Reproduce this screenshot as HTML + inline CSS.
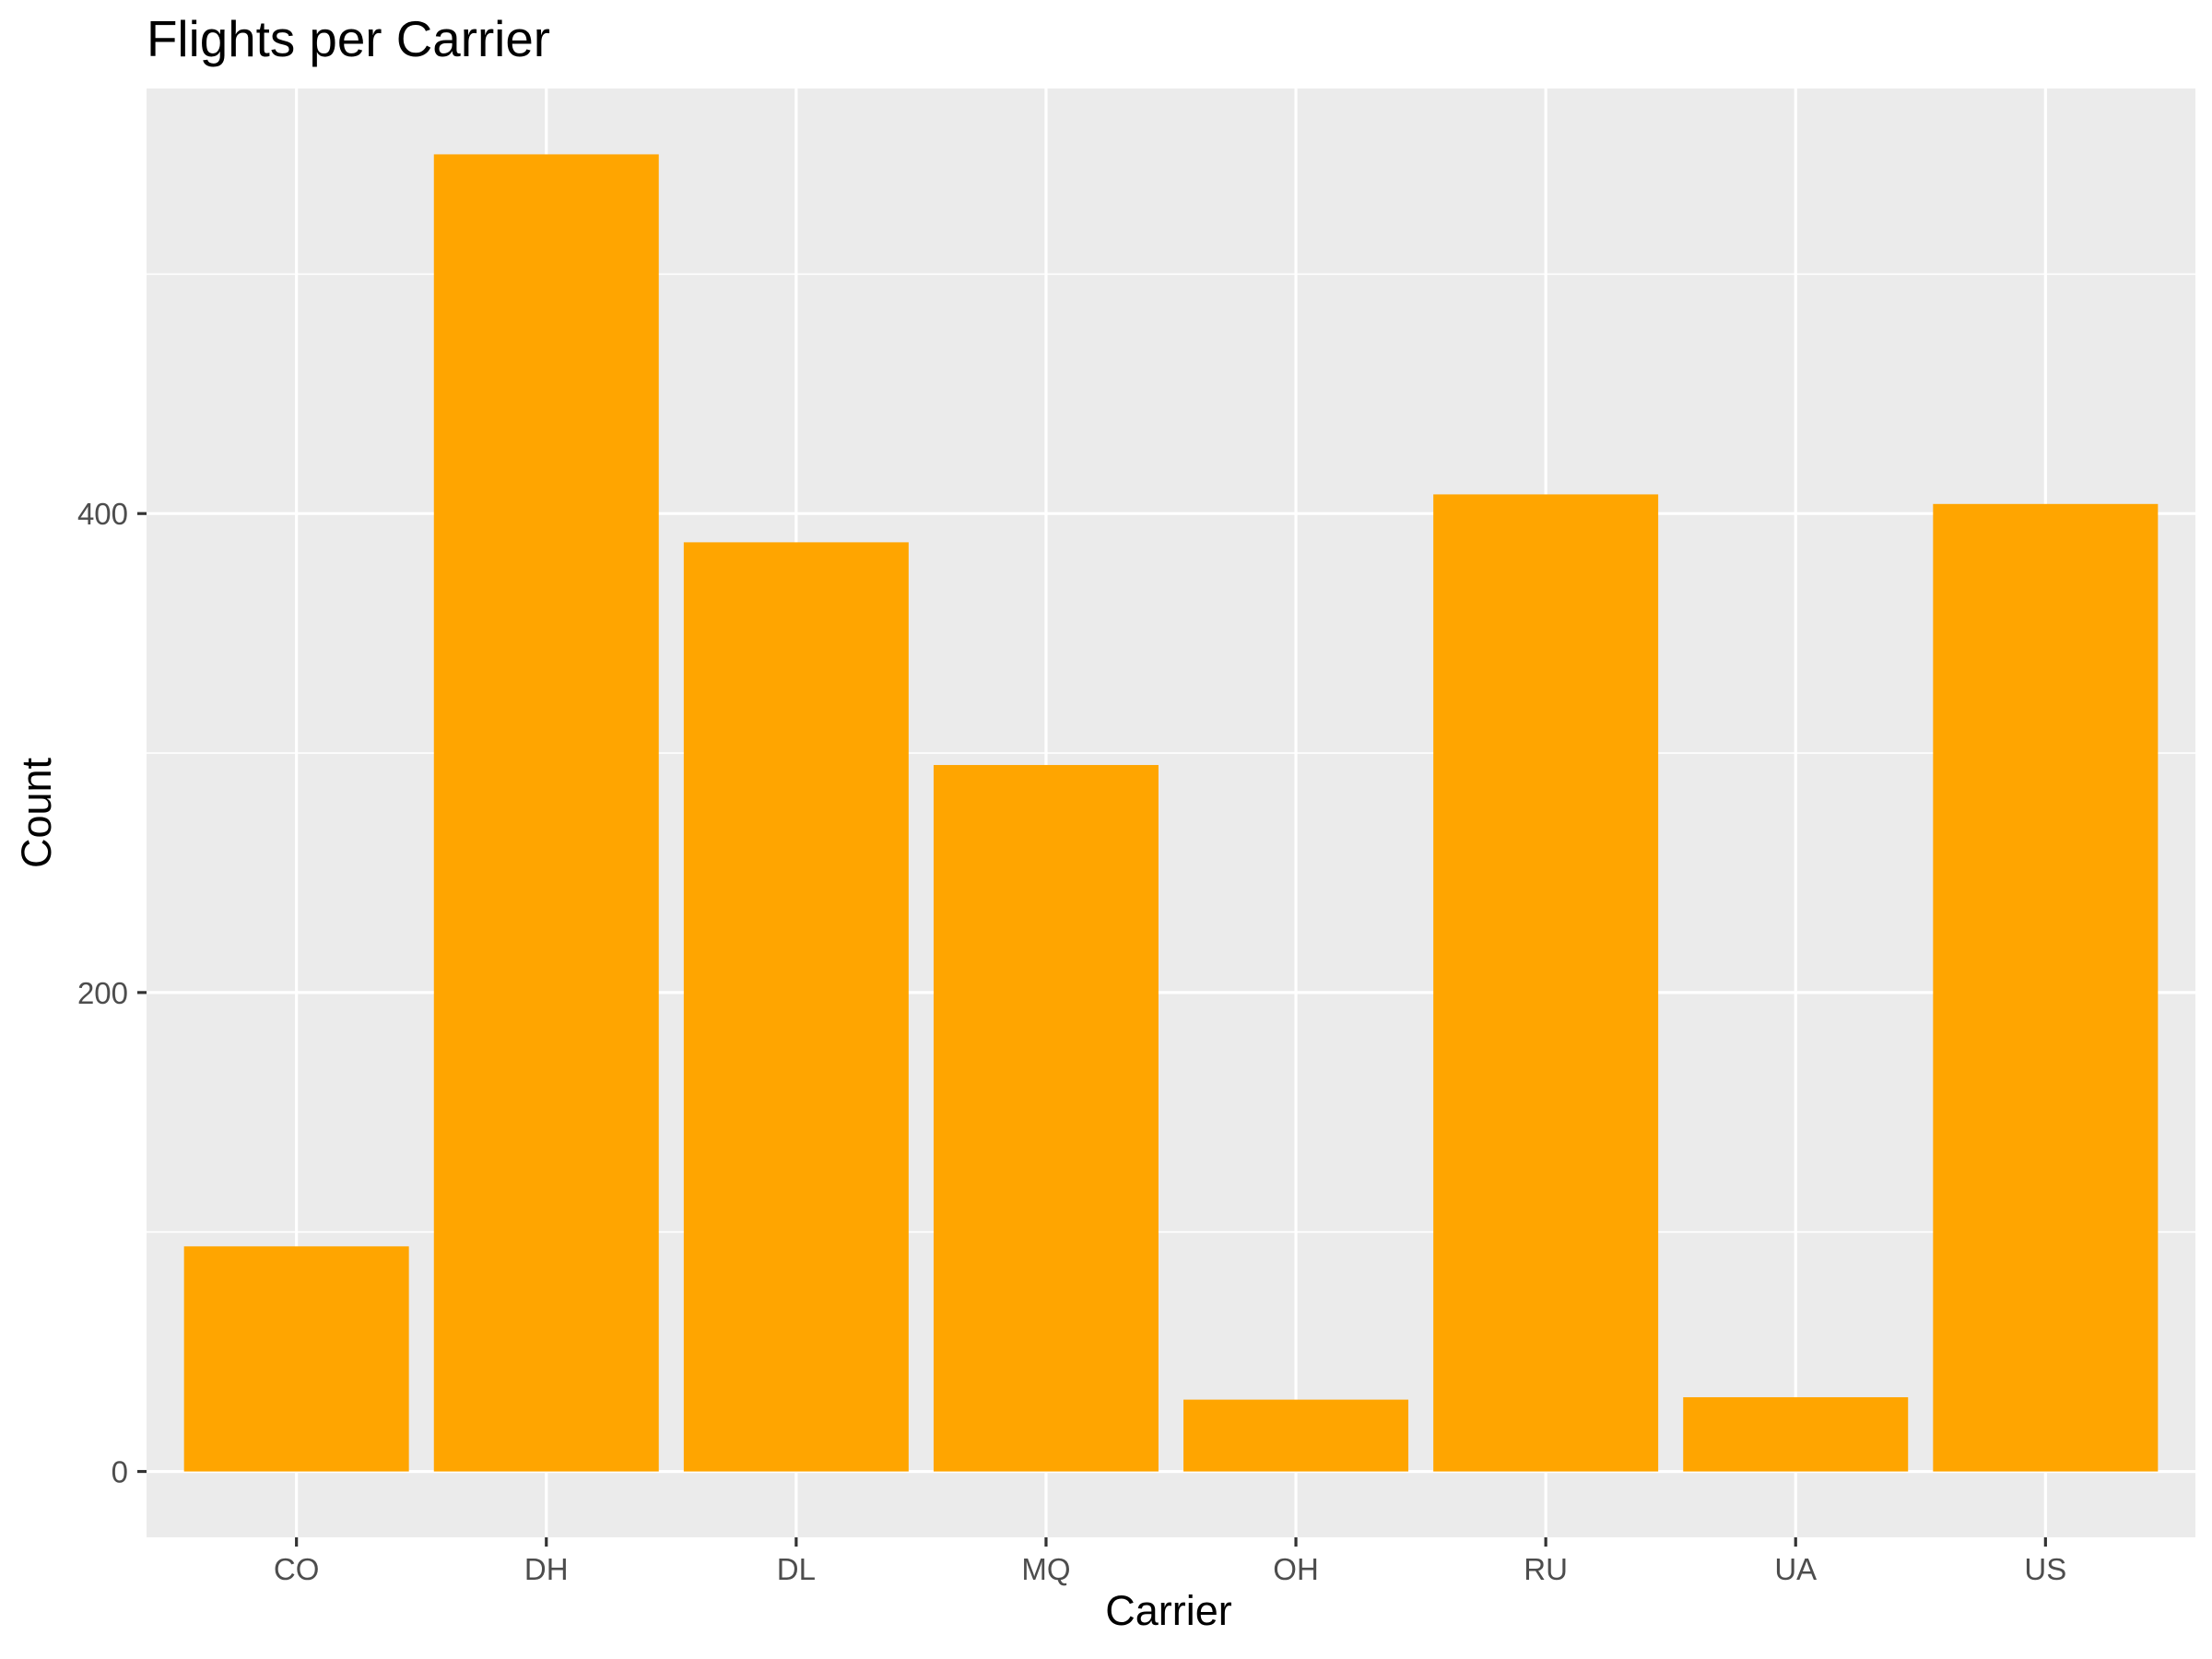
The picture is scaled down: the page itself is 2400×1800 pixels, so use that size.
<!DOCTYPE html>
<html><head><meta charset="utf-8"><style>
html,body{margin:0;padding:0;background:#fff;}
svg{display:block;font-family:"Liberation Sans",sans-serif;}
</style></head><body>
<svg id="chart" width="2400" height="1800" viewBox="0 0 2400 1800" xmlns="http://www.w3.org/2000/svg">
<rect width="2400" height="1800" fill="#fff"/>
<text x="159" y="61" font-size="55" textLength="438" lengthAdjust="spacingAndGlyphs" fill="#000">Flights per Carrier</text>
<rect x="159" y="96" width="2223" height="1572" fill="#ebebeb"/>
<g id="grid"></g>
<g id="bars"></g>
<g id="axes"></g>
<text x="1268" y="1763" font-size="45" text-anchor="middle" fill="#000">Carrier</text>
<text transform="translate(55,882) rotate(-90)" font-size="45" text-anchor="middle" fill="#000">Count</text>
</svg>
<script>
const categories = ["CO","DH","DL","MQ","OH","RU","UA","US"];
const counts = [94, 550, 388, 295, 30, 408, 31, 404];
const yTicks = [0, 200, 400];
const yMinor = [100, 300, 500];
const yTickLabels = ["0","200","400"];

const NS = "http://www.w3.org/2000/svg";
const panel = {l:159, r:2382, t:96, b:1668};
const yMaxData = Math.max(...counts);
const yLo = -0.05*yMaxData, yHi = 1.05*yMaxData;
function y(v){ return panel.b - (v - yLo)/(yHi - yLo)*(panel.b - panel.t); }
const band = (panel.r - panel.l)/(categories.length - 1 + 1.2);
function x(i){ return panel.l + (0.6 + i)*band; }
function mk(tag, attrs, parent){ const e=document.createElementNS(NS,tag); for(const k in attrs) e.setAttribute(k, attrs[k]); parent.appendChild(e); return e; }

const grid = document.getElementById("grid");
const barsG = document.getElementById("bars");
const axes = document.getElementById("axes");

yMinor.forEach(v=>{
  const l = mk("line",{x1:panel.l,x2:panel.r,y1:y(v),y2:y(v),stroke:"#fff","stroke-width":1.6},grid);
  
  
});
yTicks.forEach((v,i)=>{
  const l = mk("line",{x1:panel.l,x2:panel.r,y1:y(v),y2:y(v),stroke:"#fff","stroke-width":3.2},grid);
  
  
  const t = mk("line",{x1:panel.l-10,x2:panel.l,y1:y(v),y2:y(v),stroke:"#333","stroke-width":3.2},axes);
  
  
  const tx = mk("text",{x:panel.l-20,y:y(v)+12,"font-size":33,"text-anchor":"end",fill:"#4d4d4d"},axes);
  tx.textContent = yTickLabels[i];
  
  
});
categories.forEach((c,i)=>{
  const cx = x(i);
  const g = mk("line",{x1:cx,x2:cx,y1:panel.t,y2:panel.b,stroke:"#fff","stroke-width":3.2},grid);
  
  
  const w = 0.9*band;
  const b = mk("rect",{x:cx-w/2,y:y(counts[i]),width:w,height:y(0)-y(counts[i]),fill:"#ffa500"},barsG);
  
  
  const t = mk("line",{x1:cx,x2:cx,y1:panel.b,y2:panel.b+10,stroke:"#333","stroke-width":3.2},axes);
  
  
  const tx = mk("text",{x:cx,y:panel.b+46,"font-size":33,"text-anchor":"middle",fill:"#4d4d4d"},axes);
  tx.textContent = c;
  
  
});
</script>
</body></html>
